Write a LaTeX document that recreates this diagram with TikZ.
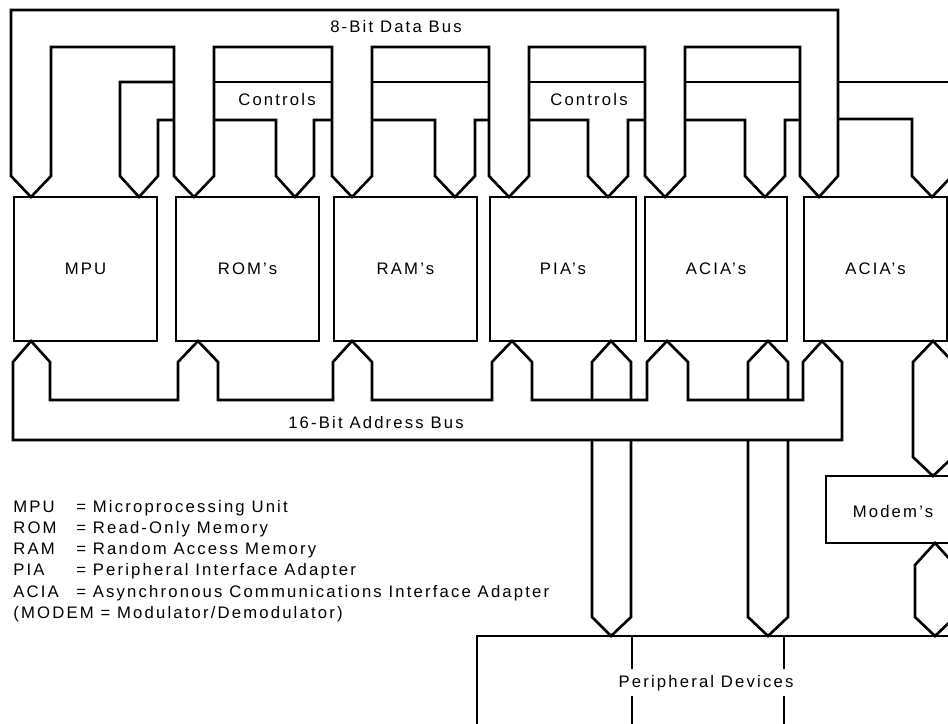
\documentclass[tikz,border=0pt]{standalone}
\usepackage{fontspec}
\setmainfont{Liberation Sans}[LetterSpace=13]
\begin{document}
\begin{tikzpicture}[x=0.02cm,y=-0.02cm,
  bus/.style={line width=1.5pt, line join=miter},
  unit/.style={draw, line width=1.5pt, minimum height=144*0.02cm, inner sep=0pt, font=\fontsize{9.5}{11}\selectfont},
  lbl/.style={inner sep=0pt, font=\fontsize{9.5}{11}\selectfont}]
\useasboundingbox (0,0) rectangle (948,724);
\clip (0,0) rectangle (948,724);
% units
\node[unit, minimum width=143*0.02cm] (mpu)  at (85.5,269) {MPU};
\node[unit, minimum width=143*0.02cm] (rom)  at (247.5,269) {ROM’s};
\node[unit, minimum width=143*0.02cm] (ram)  at (405.5,269) {RAM’s};
\node[unit, minimum width=146*0.02cm] (pia)  at (563,269) {PIA’s};
\node[unit, minimum width=142*0.02cm] (acia) at (716,269) {ACIA’s};
\node[unit, minimum width=143*0.02cm] (acib) at (875.5,269) {ACIA’s};
% data bus
\draw[bus] (31,197) -- (11,176) -- (11,10) -- (838,10) -- (838,176) -- (819,197) -- (800,176) -- (800,47)
  -- (685,47) -- (685,176) -- (665,197) -- (645,176) -- (645,47)
  -- (529,47) -- (529,176) -- (509,197) -- (489,176) -- (489,47)
  -- (372,47) -- (372,176) -- (352,197) -- (332,176) -- (332,47)
  -- (214,47) -- (214,176) -- (194,197) -- (174,176) -- (174,47)
  -- (51,47) -- (51,176) -- cycle;
\node[lbl] (databus) at (396,27) {8-Bit Data Bus};
% control bus
\draw[bus] (174,82) -- (120,82) -- (120,176) -- (139,197) -- (158,176) -- (158,120) -- (174,120);
\draw[bus] (214,82) -- (332,82);
\draw[bus] (214,120) -- (276,120) -- (276,176) -- (295,197) -- (314,176) -- (314,120) -- (332,120);
\draw[bus] (372,82) -- (489,82);
\draw[bus] (372,120) -- (435,120) -- (435,176) -- (455,197) -- (475,176) -- (475,120) -- (489,120);
\draw[bus] (529,82) -- (645,82);
\draw[bus] (529,120) -- (588,120) -- (588,176) -- (608,197) -- (628,176) -- (628,120) -- (645,120);
\draw[bus] (685,82) -- (800,82);
\draw[bus] (685,120) -- (745,120) -- (745,176) -- (765,197) -- (785,176) -- (785,120) -- (800,120);
\draw[bus] (838,82) -- (960,82);
\draw[bus] (838,119) -- (912,119) -- (912,176) -- (932,197) -- (952,176) -- (952,119) -- (960,119);
\node[lbl] (ctl1) at (277,100) {Controls};
\node[lbl] (ctl2) at (589,100) {Controls};
% address bus
\draw[bus] (31,341) -- (50,362) -- (50,400) -- (178,400) -- (178,362) -- (198,341) -- (218,362) -- (218,400)
  -- (333,400) -- (333,362) -- (352,341) -- (372,362) -- (372,400)
  -- (492,400) -- (492,362) -- (512,341) -- (532,362) -- (532,400)
  -- (647,400) -- (647,362) -- (667,341) -- (688,362) -- (688,400)
  -- (803,400) -- (803,362) -- (822,341) -- (842,362) -- (842,440) -- (13,440) -- (13,362) -- cycle;
\node[lbl] (addrbus) at (376,423) {16-Bit Address Bus};
% peripheral buses
\draw[bus] (592,400) -- (592,362) -- (611,341) -- (631,362) -- (631,400);
\draw[bus] (592,440) -- (592,617) -- (611,636) -- (631,617) -- (631,440);
\draw[bus] (748,400) -- (748,362) -- (768,341) -- (788,362) -- (788,400);
\draw[bus] (748,440) -- (748,617) -- (768,636) -- (788,617) -- (788,440);
% modem
\draw[bus] (933,341) -- (953,362) -- (953,457) -- (933,476) -- (913,457) -- (913,362) -- cycle;
\node[unit, minimum width=140*0.02cm, minimum height=67*0.02cm] (modem) at (896,509.5) {};
\node[lbl] (modemlbl) at (893,512) {Modem’s};
\draw[bus] (935,543) -- (955,565) -- (955,617) -- (935,636) -- (915,617) -- (915,565) -- cycle;
% peripheral devices
\draw[bus] (477,730) -- (477,636) -- (960,636);
\draw[bus] (632,636) -- (632,669);
\draw[bus] (632,696) -- (632,730);
\draw[bus] (784,636) -- (784,669);
\draw[bus] (784,696) -- (784,730);
\node[lbl, anchor=base] (periph) at (706,687) {Peripheral Devices};
% legend
\foreach \i/\a/\t in {0/MPU/Microprocessing Unit,1/ROM/Read-Only Memory,2/RAM/Random Access Memory,3/PIA/Peripheral Interface Adapter,4/ACIA/Asynchronous Communications Interface Adapter}{
  \node[lbl, anchor=base west] (ab\i) at (13,512+21.3*\i) {\a};
  \node[lbl, anchor=base west] (df\i) at (76,512+21.3*\i) {= \t};
}
\node[lbl, anchor=base west] (modemdef) at (13,618.5) {(MODEM = Modulator/Demodulator)};
\end{tikzpicture}
\end{document}
